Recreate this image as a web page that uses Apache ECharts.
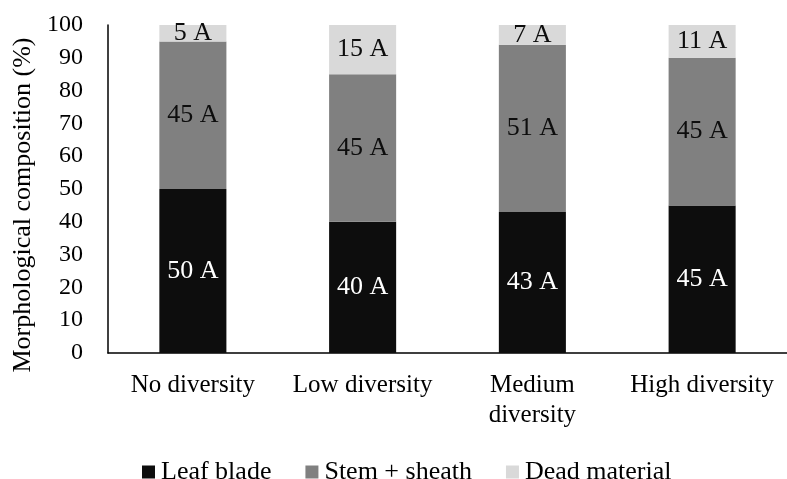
<!DOCTYPE html>
<html>
<head>
<meta charset="utf-8">
<script src="https://cdn.jsdelivr.net/npm/echarts@6/dist/echarts.min.js"></script>
<style>
  html, body { margin: 0; padding: 0; background: #fff; }
  #chart { width: 787px; height: 479px; }
</style>
</head>
<body>
<div id="chart"></div>
<script>
// Morphological composition of forage by diversity level
const categories = ['No diversity', 'Low diversity', 'Medium\ndiversity', 'High diversity'];
const leafBlade = [50, 40, 43, 45];
const stemSheath = [45, 45, 51, 45];
const deadMaterial = [5, 15, 7, 11];
const letters = ['A', 'A', 'A', 'A'];
const yTicks = [0, 100, 10];

const FONT = "'Liberation Serif', 'Times New Roman', serif";

function segment(name, data, color, labelColor) {
  return {
    name: name,
    type: 'bar',
    stack: 'total',
    barWidth: '39.5%',
    data: data,
    itemStyle: { color: color },
    label: {
      show: true,
      position: 'inside',
      color: labelColor,
      fontFamily: FONT,
      fontSize: 26,
      formatter: p => p.value + ' ' + letters[p.dataIndex]
    },
    emphasis: { disabled: true }
  };
}

const chart = echarts.init(document.getElementById('chart'), null, { renderer: 'canvas' });
chart.setOption({
  animation: false,
  backgroundColor: '#ffffff',
  textStyle: { fontFamily: FONT },
  grid: { left: 108, top: 25, width: 692, height: 328 },
  legend: {
    left: 137,
    top: 452,
    itemWidth: 13,
    itemHeight: 13,
    itemGap: 34,
    icon: 'rect',
    textStyle: { fontFamily: FONT, fontSize: 26, color: '#000', lineHeight: 30, padding: [0, 0, 0, 1] },
    data: ['Leaf blade', 'Stem + sheath', 'Dead material']
  },
  xAxis: {
    type: 'category',
    data: categories,
    axisLine: { lineStyle: { color: '#000', width: 1.5 } },
    axisTick: { show: false },
    axisLabel: {
      fontFamily: FONT,
      fontSize: 25,
      color: '#000',
      margin: 17,
      lineHeight: 30,
      interval: 0
    }
  },
  yAxis: {
    type: 'value',
    min: yTicks[0],
    max: yTicks[1],
    interval: yTicks[2],
    name: 'Morphological composition (%)',
    nameLocation: 'middle',
    nameGap: 72,
    nameTextStyle: { fontFamily: FONT, fontSize: 26, color: '#000', padding: [0, 32, 0, 0] },
    axisLine: { show: true, lineStyle: { color: '#000', width: 1.5 } },
    axisTick: { show: false },
    splitLine: { show: false },
    axisLabel: { fontFamily: FONT, fontSize: 24, color: '#000', margin: 25 }
  },
  series: [
    segment('Leaf blade', leafBlade, '#0d0d0d', '#ffffff'),
    segment('Stem + sheath', stemSheath, '#808080', '#0d0d0d'),
    segment('Dead material', deadMaterial, '#d9d9d9', '#0d0d0d')
  ]
});
</script>
</body>
</html>
